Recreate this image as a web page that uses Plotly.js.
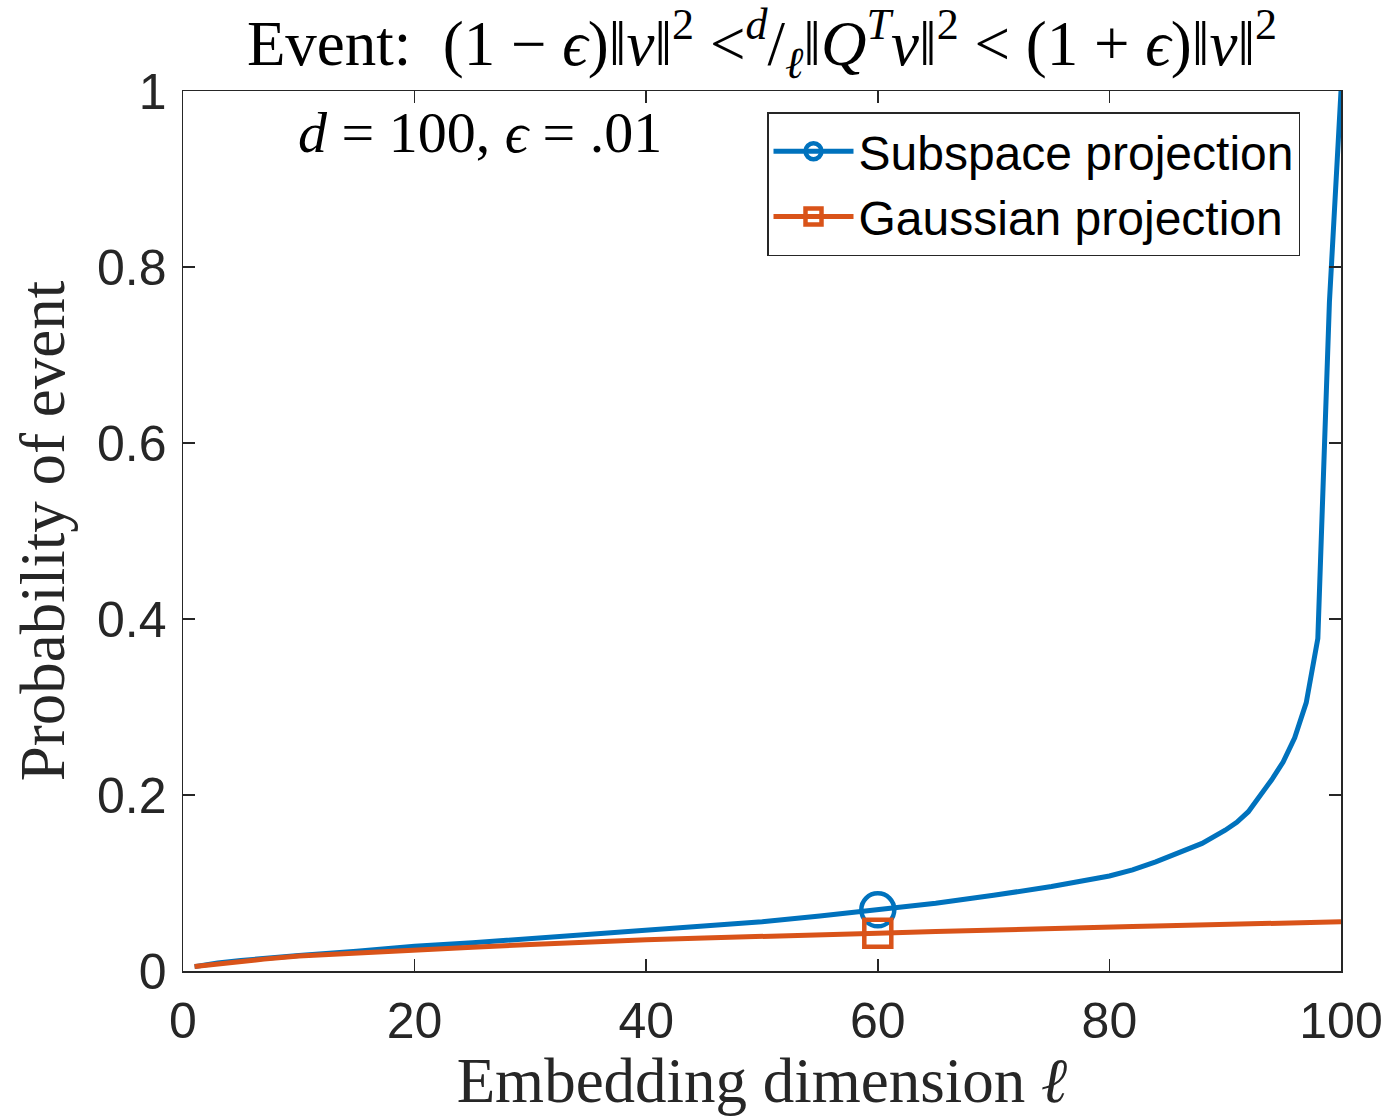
<!DOCTYPE html>
<html>
<head>
<meta charset="utf-8">
<script src="https://cdn.plot.ly/plotly-3.0.1.min.js"></script>
<style>html,body{margin:0;padding:0;background:#fff;}#chart{width:1391px;height:1116px;}</style>
</head>
<body>
<div id="chart"></div>
<script>
// Embedding dimension (x) sample points
const dims = [1, 2, 3, 5, 7, 10, 15, 20, 25, 30, 35, 40, 45, 50, 55, 60, 65, 70, 75, 80, 82, 84, 86, 88, 90, 91, 92, 93, 94, 95, 96, 97, 98, 99, 100];
// Probability of event, subspace projection
const subspaceProb = [0.005, 0.0075, 0.009, 0.012, 0.0145, 0.0175, 0.0225, 0.028, 0.032, 0.037, 0.041, 0.046, 0.051, 0.056, 0.0625, 0.0695, 0.077, 0.086, 0.096, 0.108, 0.115, 0.124, 0.134, 0.145, 0.160, 0.169, 0.181, 0.198, 0.217, 0.2375, 0.265, 0.305, 0.378, 0.76, 1.0];
// Probability of event, Gaussian projection
const gaussianProb = [0.005, 0.0065, 0.008, 0.0115, 0.0135, 0.017, 0.0205, 0.0245, 0.027, 0.030, 0.033, 0.0355, 0.0375, 0.039, 0.041, 0.043, 0.045, 0.047, 0.048, 0.050, 0.0505, 0.051, 0.0515, 0.052, 0.053, 0.053, 0.0535, 0.0535, 0.054, 0.054, 0.0545, 0.055, 0.0555, 0.0555, 0.056];
const markerDim = 60;
const seriesNames = ['Subspace projection', 'Gaussian projection'];
const xTicks = [0, 20, 40, 60, 80, 100];
const yTicks = [0, 0.2, 0.4, 0.6, 0.8, 1];
const yTickText = ['0', '0.2', '0.4', '0.6', '0.8', '1'];

const BLUE = '#0072BD', ORANGE = '#D95319', AX = '#262626';
const mi = dims.indexOf(markerDim);

const traces = [
  {x: dims, y: subspaceProb, mode: 'lines', line: {color: BLUE, width: 5}, showlegend: false, hoverinfo: 'skip'},
  {x: dims, y: gaussianProb, mode: 'lines', line: {color: ORANGE, width: 5}, showlegend: false, hoverinfo: 'skip'},
  {x: [dims[mi]], y: [subspaceProb[mi]], mode: 'lines+markers', name: seriesNames[0],
   line: {color: BLUE, width: 5},
   marker: {symbol: 'circle-open', size: 33, color: BLUE, line: {color: BLUE, width: 4.5}}},
  {x: [dims[mi]], y: [gaussianProb[mi]], mode: 'lines+markers', name: seriesNames[1],
   line: {color: ORANGE, width: 5},
   marker: {symbol: 'square-open', size: 27, color: ORANGE, line: {color: ORANGE, width: 4.5}}}
];

const serif = 'Liberation Serif, Times New Roman, serif';
const sans = 'Liberation Sans, Arial, Helvetica, sans-serif';
const sp = ' ';

const layout = {
  width: 1391, height: 1116,
  margin: {l: 183, r: 50, t: 91, b: 145, pad: 0},
  paper_bgcolor: '#fff', plot_bgcolor: '#fff',
  title: {
    text: 'Event:\u00a0\u00a0(1' + sp + '−' + sp + '<i>ϵ</i>)‖<i>v</i>‖<sup>2</sup>' + sp + '<' + '<sup><i>d</i></sup>/<sub><i>ℓ</i></sub>‖<i>Q</i><sup><i>T</i></sup>' + '<i>v</i>‖<sup>2</sup>' + sp + '<' + sp + '(1' + sp + '+' + sp + '<i>ϵ</i>)‖<i>v</i>‖<sup>2</sup>',
    font: {family: serif, size: 63, color: '#000'},
    x: 0.5, xref: 'paper', xanchor: 'center',
    y: 1 - 43 / 1116, yref: 'container', yanchor: 'middle'
  },
  xaxis: {
    range: [0, 100], tickvals: xTicks, ticktext: xTicks.map(String),
    ticks: 'inside', ticklen: 12, tickwidth: 1.5, tickcolor: AX,
    showline: true, linecolor: AX, linewidth: 1.5, mirror: 'ticks',
    showgrid: false, zeroline: false, ticklabelstandoff: 5,
    tickfont: {family: sans, size: 50, color: AX},
    title: {text: 'Embedding dimension <i>ℓ</i>', font: {family: serif, size: 63, color: AX}, standoff: 12}
  },
  yaxis: {
    range: [0, 1], tickvals: yTicks, ticktext: yTickText,
    ticks: 'inside', ticklen: 12, tickwidth: 1.5, tickcolor: AX,
    showline: true, linecolor: AX, linewidth: 1.5, mirror: 'ticks',
    showgrid: false, zeroline: false, ticklabelstandoff: 5,
    tickfont: {family: sans, size: 50, color: AX},
    title: {text: 'Probability of event', font: {family: serif, size: 63, color: AX}, standoff: 12}
  },
  legend: {
    x: (767 - 183) / 1158, xanchor: 'left', xref: 'paper',
    y: (971 - 112) / 880, yanchor: 'top', yref: 'paper',
    bgcolor: '#fff', bordercolor: AX, borderwidth: 1.5,
    font: {family: sans, size: 48, color: '#000'},
    itemwidth: 80, tracegroupgap: 0
  },
  annotations: [{
    text: '<i>d</i> = 100, <i>ϵ</i> = .01', xref: 'paper', yref: 'paper',
    x: (480 - 183) / 1158, y: (971 - 132) / 880, xanchor: 'center', yanchor: 'middle',
    showarrow: false, font: {family: serif, size: 58, color: '#000'}
  }]
};

Plotly.newPlot('chart', traces, layout, {staticPlot: true, displayModeBar: false});
</script>
</body>
</html>
